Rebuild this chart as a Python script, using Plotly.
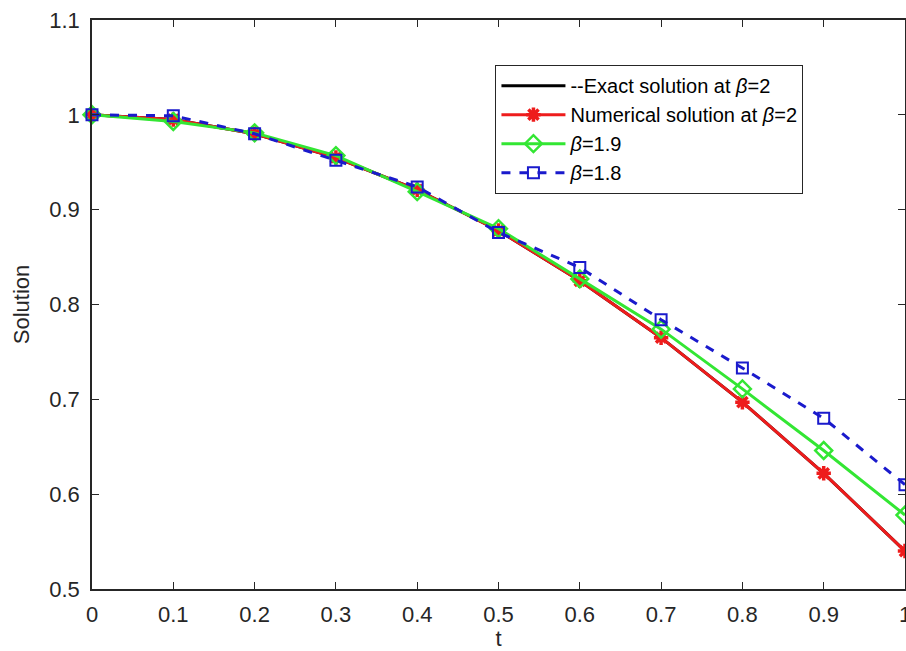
import plotly.graph_objects as go

t = [0.0, 0.1, 0.2, 0.3, 0.4, 0.5, 0.6, 0.7, 0.8, 0.9, 1.0]
exact_b2 = [1.000, 0.995, 0.980, 0.955, 0.921, 0.878, 0.825, 0.765, 0.697, 0.622, 0.540]
numerical_b2 = [1.000, 0.995, 0.980, 0.955, 0.921, 0.878, 0.825, 0.765, 0.697, 0.622, 0.540]
beta_19 = [1.000, 0.993, 0.981, 0.957, 0.919, 0.880, 0.827, 0.774, 0.711, 0.646, 0.578]
beta_18 = [1.000, 0.999, 0.980, 0.952, 0.924, 0.876, 0.839, 0.784, 0.733, 0.680, 0.610]

x_ticks = [0, 0.1, 0.2, 0.3, 0.4, 0.5, 0.6, 0.7, 0.8, 0.9, 1]
y_ticks = [0.5, 0.6, 0.7, 0.8, 0.9, 1.0, 1.1]

FONT = "Liberation Sans, Arial, Helvetica, sans-serif"
AX = "#262626"

fig = go.Figure()
fig.add_trace(go.Scatter(x=t, y=exact_b2, mode="lines", name="--Exact solution at <i>β</i>=2",
                         line=dict(color="black", width=3), cliponaxis=False))
fig.add_trace(go.Scatter(x=t, y=numerical_b2, mode="lines+markers", name="Numerical solution at <i>β</i>=2",
                         line=dict(color="#EE1C1C", width=3),
                         marker=dict(symbol="asterisk-open", size=12, line=dict(color="#EE1C1C", width=3.5)),
                         cliponaxis=False))
fig.add_trace(go.Scatter(x=t, y=beta_19, mode="lines+markers", name="<i>β</i>=1.9",
                         line=dict(color="#33E633", width=3),
                         marker=dict(symbol="diamond-open", size=13, color="#33E633", line=dict(color="#33E633", width=2.5)),
                         cliponaxis=False))
fig.add_trace(go.Scatter(x=t, y=beta_18, mode="lines+markers", name="<i>β</i>=1.8",
                         line=dict(color="#1A1ACC", width=3, dash="dash"),
                         marker=dict(symbol="square-open", size=11, color="#1A1ACC", line=dict(color="#1A1ACC", width=2)),
                         cliponaxis=False))

fig.update_layout(
    width=906, height=651,
    margin=dict(l=92, r=1, t=20, b=62),
    paper_bgcolor="white", plot_bgcolor="white",
    font=dict(family=FONT, size=22, color=AX),
    showlegend=True,
    legend=dict(x=0.496, y=0.921, xanchor="left", yanchor="top",
                bgcolor="white", bordercolor=AX, borderwidth=1.2,
                font=dict(family=FONT, size=20, color="black"),
                tracegroupgap=0, itemwidth=64),
    xaxis=dict(range=[0, 1], tickvals=x_ticks, ticktext=[f"{v:g}" for v in x_ticks],
               ticks="inside", ticklen=7, tickcolor=AX, showline=True, linecolor=AX, linewidth=1.5,
               mirror="ticks", showgrid=False, zeroline=False, ticklabelstandoff=5,
               ticklabeloverflow="allow", automargin=False,
               title=dict(text="t", font=dict(size=22), standoff=0)),
    yaxis=dict(range=[0.5, 1.1], tickvals=y_ticks, ticktext=[f"{v:g}" for v in y_ticks],
               ticks="inside", ticklen=7, tickcolor=AX, showline=True, linecolor=AX, linewidth=1.5,
               mirror="ticks", showgrid=False, zeroline=False, ticklabelstandoff=6,
               ticklabeloverflow="allow", automargin=False,
               title=dict(text="Solution", font=dict(size=22), standoff=14)),
)

fig.write_html("out.html")
